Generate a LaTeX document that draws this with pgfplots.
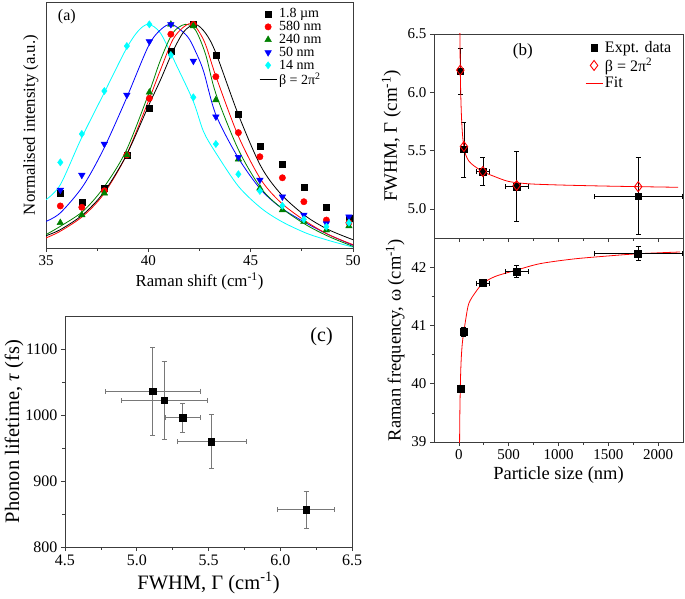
\documentclass[border=0pt]{standalone}
\usepackage{fontspec}
\setmainfont{Liberation Serif}
\usepackage{pgfplots}
\pgfplotsset{compat=1.18}
\definecolor{dgreen}{RGB}{0,128,0}
\definecolor{cyanx}{RGB}{0,255,255}
\definecolor{bluex}{RGB}{0,0,255}
\definecolor{redx}{RGB}{255,0,0}
\definecolor{axgray}{RGB}{60,60,60}
\definecolor{ebgray}{RGB}{120,120,120}
\pgfplotsset{
  base/.style={scale only axis, axis line style={line width=0.8pt, axgray},
    tick style={line width=0.7pt, axgray}, tick align=outside,
    major tick length=4pt, minor tick length=2.5pt, tick pos=left,
    /pgf/number format/assume math mode=true},
  ebar/.style={error bars/.cd, x dir=both, x explicit, y dir=both, y explicit,
    error bar style={#1, line width=0.6pt},
    error mark options={rotate=90, #1, mark size=2.5pt, line width=0.6pt}},
}
\begin{document}
\begin{tikzpicture}
\useasboundingbox (0,0) rectangle (685pt,-599pt);
% ---------------- (a)
\begin{axis}[base, at={(46pt,-248pt)}, anchor=south west, width=307pt, height=246pt,
  xmin=35, xmax=50, ymin=0, ymax=1.1, xtick={35,40,45,50}, minor x tick num=1, ytick=\empty,
  ticklabel style={font=\fontsize{15}{17}\selectfont},
  xlabel={Raman shift (cm\textsuperscript{-1})}, ylabel={Normalised intensity (a.u.)},
  label style={font=\fontsize{16.8}{19}\selectfont},
  legend style={at={(0.684,0.99)}, anchor=north west, draw=none, fill=none,
    font=\fontsize{14}{15}\selectfont, row sep=-2pt},
  legend cell align=left]
\addplot[cyanx, line width=0.8pt, smooth, forget plot] coordinates {
(35.0,0.216)(35.7,0.283)(36.7,0.485)(37.8,0.686)(38.9,0.887)(39.5,0.97)(40.0,1.0)(40.6,0.96)
(41.4,0.812)(42.2,0.655)(42.7,0.52)(43.3,0.425)(44.4,0.276)(45.5,0.179)(46.5,0.119)(47.7,0.067)(48.8,0.034)(50,0.004)};
\addplot[bluex, line width=0.8pt, smooth, forget plot] coordinates {
(35.0,0.119)(35.7,0.157)(36.8,0.276)(37.8,0.44)(38.9,0.663)(40.0,0.902)(40.6,0.976)(41.15,1.0)
(41.9,0.947)(42.3,0.88)(42.7,0.79)(43.3,0.596)(44.4,0.402)(45.5,0.261)(46.5,0.179)(47.7,0.112)(48.8,0.06)(50,0.012)};
\addplot[dgreen, line width=0.8pt, smooth, forget plot] coordinates {
(35.0,0.06)(35.7,0.097)(36.8,0.164)(37.8,0.268)(38.9,0.432)(40.0,0.686)(40.6,0.842)(41.2,0.962)
(41.8,1.0)(42.3,0.975)(42.8,0.865)(43.3,0.69)(44.4,0.44)(45.5,0.268)(46.5,0.179)(47.7,0.104)(48.8,0.052)(50,0.007)};
\addplot[redx, line width=0.8pt, smooth, forget plot] coordinates {
(35.0,0.045)(35.7,0.075)(36.8,0.142)(37.8,0.239)(38.9,0.41)(40.0,0.656)(40.6,0.798)(41.2,0.932)
(41.75,0.99)(42.2,1.0)(42.75,0.92)(43.3,0.768)(44.4,0.5)(45.5,0.306)(46.5,0.201)(47.7,0.119)(48.8,0.06)(50,0.015)};
\addplot[only marks, mark=square*, mark size=3pt, black] coordinates {
(35.7,0.245)(36.75,0.207)(37.85,0.267)(38.95,0.416)(40.05,0.627)(41.1,0.878)(42.2,1.0)
(43.3,0.863)(44.4,0.598)(45.45,0.453)(46.55,0.376)(47.6,0.27)(48.7,0.182)(49.8,0.133)};
\addlegendentry{1.8 µm}
\addplot[only marks, mark=*, mark size=3.2pt, redx] coordinates {
(35.7,0.188)(36.75,0.182)(37.85,0.256)(38.95,0.416)(40.05,0.669)(41.1,0.956)(42.2,1.0)
(43.3,0.766)(44.4,0.516)(45.45,0.408)(46.55,0.314)(47.6,0.207)(48.7,0.125)(49.8,0.113)};
\addlegendentry{580 nm}
\addplot[only marks, mark=triangle*, mark size=3.8pt, dgreen] coordinates {
(35.7,0.113)(36.75,0.148)(37.85,0.245)(38.95,0.416)(40.05,0.696)(41.1,1.0)(42.2,0.993)
(43.3,0.662)(44.4,0.397)(45.45,0.267)(46.55,0.170)(47.6,0.118)(48.7,0.080)(49.8,0.098)};
\addlegendentry{240 nm}
\addplot[only marks, mark=triangle*, mark size=3.8pt, bluex, mark options={rotate=180}] coordinates {
(35.7,0.259)(36.75,0.326)(37.85,0.465)(38.95,0.684)(40.05,0.923)(41.1,1.0)(42.2,0.836)
(43.3,0.587)(44.4,0.406)(45.45,0.304)(46.55,0.229)(47.6,0.148)(48.7,0.110)(49.8,0.140)};
\addlegendentry{50 nm}
\addplot[only marks, mark=diamond*, mark size=3.6pt, cyanx] coordinates {
(35.7,0.383)(36.75,0.51)(37.85,0.702)(38.95,0.903)(40.05,1.0)(41.1,0.863)(42.2,0.674)
(43.3,0.465)(44.4,0.33)(45.45,0.255)(46.55,0.189)(47.6,0.128)(48.7,0.095)(49.8,0.113)};
\addlegendentry{14 nm}
\addplot[black, line width=0.8pt, smooth] coordinates {
(35.0,0.055)(35.7,0.082)(36.8,0.149)(37.8,0.246)(38.9,0.41)(40.0,0.634)(40.6,0.753)(41.2,0.88)
(41.75,0.969)(42.3,1.0)(42.8,0.96)(43.3,0.872)(44.4,0.596)(45.5,0.365)(46.5,0.239)(47.7,0.142)(48.8,0.082)(50,0.037)};
\addlegendentry{β = 2π\textsuperscript{2}}
\node[font=\fontsize{16}{18}\selectfont] at (rel axis cs:0.068,0.939) {(a)};
\end{axis}
% ---------------- (b) upper
\begin{axis}[base, at={(434pt,-238pt)}, anchor=south west, width=249pt, height=204pt,
  xmin=-250, xmax=2250, ymin=4.75, ymax=6.5, xtick={0,500,...,2000}, minor x tick num=1,
  xticklabels={}, ytick={5,5.5,6,6.5},
  yticklabel style={/pgf/number format/.cd, fixed, fixed zerofill, precision=1},
  ticklabel style={font=\fontsize{15}{17}\selectfont},
  ylabel={FWHM, Γ (cm\textsuperscript{-1})},
  label style={font=\fontsize{19}{21}\selectfont},
  legend style={at={(0.594,0.985)}, anchor=north west, draw=none, fill=none,
    font=\fontsize{16}{17}\selectfont, row sep=0pt},
  legend cell align=left]
\addplot[only marks, mark=square*, mark size=3.2pt, black, ebar=black] coordinates {
(14,6.18) +- (0,0.20)
(50,5.51) +- (0,0.235)
(240,5.32) +- (67,0.12)
(580,5.19) +- (112,0.30)
(1800,5.11) +- (443,0.33)};
\addlegendentry{Expt. data}
\addplot[only marks, mark=diamond, mark size=5pt, redx, line width=0.9pt] coordinates {
(14,6.19)(50,5.535)(240,5.32)(580,5.20)(1800,5.19)};
\addlegendentry{β = 2π\textsuperscript{2}}
\addplot[redx, line width=0.8pt, smooth] coordinates {
(9,6.62)(10,6.5)(12,6.33)(14,6.19)(18,6.0)(25,5.81)(35,5.65)(50,5.53)(70,5.46)(100,5.41)
(150,5.37)(240,5.32)(350,5.28)(500,5.235)(700,5.215)(1000,5.205)(1500,5.195)(2200,5.185)};
\addlegendentry{Fit}
\node[font=\fontsize{17}{19}\selectfont] at (rel axis cs:0.357,0.917) {(b)};
\end{axis}
% ---------------- (b) lower
\begin{axis}[base, at={(434pt,-442pt)}, anchor=south west, width=249pt, height=204pt,
  xmin=-250, xmax=2250, ymin=39, ymax=42.5, xtick={0,500,...,2000}, minor x tick num=1,
  ytick={39,40,41,42}, minor y tick num=1,
  xticklabel style={/pgf/number format/1000 sep={}},
  ticklabel style={font=\fontsize{15}{17}\selectfont},
  xlabel={Particle size (nm)}, ylabel={Raman frequency, ω (cm\textsuperscript{-1})},
  label style={font=\fontsize{18.5}{20}\selectfont}]
\addplot[redx, line width=0.8pt, smooth] coordinates {
(6,38.8)(8,39.25)(10,39.55)(12,39.76)(14,39.92)(18,40.2)(24,40.45)(32,40.65)(40,40.78)(50,40.89)
(70,41.12)(100,41.38)(167,41.57)(240,41.72)(364,41.84)(580,41.95)(815,42.06)(1150,42.14)(1485,42.19)(1800,42.23)(2220,42.26)};
\addplot[only marks, mark=square*, mark size=3.5pt, black, ebar=black] coordinates {
(14,39.92) +- (0,0.04)
(50,40.89) +- (0,0.08)
(240,41.725) +- (67,0.03)
(580,41.925) +- (112,0.10)
(1800,42.23) +- (443,0.12)};
\end{axis}
% ---------------- (c)
\begin{axis}[base, at={(65pt,-547pt)}, anchor=south west, width=287pt, height=231pt,
  xmin=4.5, xmax=6.5, ymin=800, ymax=1150, xtick={4.5,5,5.5,6,6.5}, ytick={800,900,1000,1100},
  minor tick num=1,
  xticklabel style={/pgf/number format/.cd, fixed, fixed zerofill, precision=1},
  yticklabel style={/pgf/number format/1000 sep={}},
  ticklabel style={font=\fontsize{16}{18}\selectfont},
  xlabel={FWHM, Γ (cm\textsuperscript{-1})}, ylabel={Phonon lifetime, \textit{τ} (fs)},
  ylabel shift=-5pt,
  label style={font=\fontsize{20.5}{22}\selectfont}]
\addplot[only marks, mark=square*, mark size=3.2pt, black, ebar=ebgray] coordinates {
(6.18,856.5) +- (0.20,28)
(5.52,959.7) +- (0.24,41)
(5.32,996) +- (0.12,22)
(5.19,1022) +- (0.30,59)
(5.11,1036) +- (0.33,66)};
\node[font=\fontsize{20}{22}\selectfont] at (rel axis cs:0.894,0.91) {(c)};
\end{axis}
\end{tikzpicture}
\end{document}
